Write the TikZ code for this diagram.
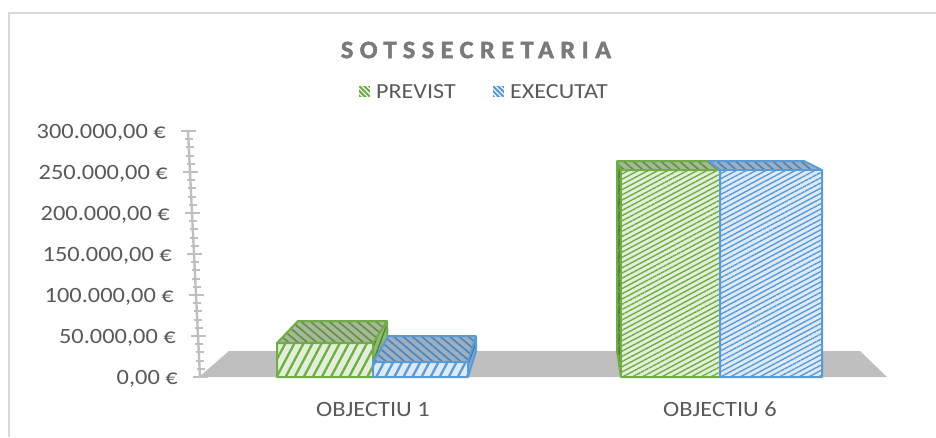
\documentclass[tikz,border=0pt]{standalone}
\usepackage{fontspec}
\setmainfont{Carlito}[FakeStretch=1.12]
\newfontfamily\titlefont{Carlito Bold}[LetterSpace=26,FakeStretch=1.05,FakeBold=2]
\usetikzlibrary{patterns.meta}
\definecolor{bordergray}{HTML}{D9D9D9}
\definecolor{floorgray}{HTML}{BFBFBF}
\definecolor{axisgray}{HTML}{BFBFBF}
\definecolor{txtgray}{HTML}{595959}
\definecolor{titlegray}{HTML}{7A7A7A}
\definecolor{gline}{HTML}{70AD47}
\definecolor{glight}{HTML}{E2F0D9}
\definecolor{gtop}{HTML}{A7B79A}
\definecolor{gside}{HTML}{8FB872}
\definecolor{gdark}{HTML}{4F7D31}
\definecolor{bline}{HTML}{5B9BD5}
\definecolor{blight}{HTML}{DEEBF7}
\definecolor{btop}{HTML}{9BAFC4}
\definecolor{bside}{HTML}{7AA9D8}
\tikzset{
  axlab/.style={font=\fontsize{21.8}{26}\selectfont, text=txtgray, inner sep=0pt},
  catlab/.style={font=\fontsize{21.8}{26}\selectfont, text=txtgray, inner sep=0pt},
  leglab/.style={font=\fontsize{21.5}{26}\selectfont, text=txtgray, inner sep=0pt, anchor=west},
  gfrontA/.style={fill=glight, postaction={pattern={Lines[angle=62,distance=8pt,line width=2.3pt]}, pattern color=gline}},
  bfrontA/.style={fill=blight, postaction={pattern={Lines[angle=62,distance=8pt,line width=2.3pt]}, pattern color=bline}},
  gfrontB/.style={fill=glight, postaction={pattern={Lines[angle=28,distance=4.6pt,line width=1.4pt]}, pattern color=gline}},
  bfrontB/.style={fill=blight, postaction={pattern={Lines[angle=28,distance=4.6pt,line width=1.4pt]}, pattern color=bline}},
  gtopface/.style={fill=gtop, postaction={pattern={Lines[angle=-40,distance=6pt,line width=1.6pt]}, pattern color=gline!85!black}},
  btopface/.style={fill=btop, postaction={pattern={Lines[angle=-40,distance=6pt,line width=1.6pt]}, pattern color=bline!85!black}},
  gsideface/.style={fill=gside, postaction={pattern={Lines[angle=70,distance=5pt,line width=1.2pt]}, pattern color=gline!70!black}},
  bsideface/.style={fill=bside, postaction={pattern={Lines[angle=70,distance=5pt,line width=1.2pt]}, pattern color=bline!70!black}},
  gdarkface/.style={fill=gdark, postaction={pattern={Lines[angle=70,distance=4pt,line width=1pt]}, pattern color=gline}},
  gedge/.style={draw=gline, line width=2pt, line join=round},
  bedge/.style={draw=bline, line width=2pt, line join=round},
  gmark/.style={fill=gline, postaction={pattern={Lines[angle=-45,distance=3.5pt,line width=1.1pt]}, pattern color=white}},
  bmark/.style={fill=bline, postaction={pattern={Lines[angle=-45,distance=3.5pt,line width=1.1pt]}, pattern color=white}}
}
\begin{document}
\begin{tikzpicture}[x=1pt,y=-1pt]
\useasboundingbox (0,0) rectangle (936,437);
% chart border
\draw[bordergray, line width=1.5pt] (9,437) -- (9,13) -- (936,13);
% title
\node[font=\titlefont\fontsize{25}{28}\selectfont, text=titlegray, inner sep=0pt] (title) at (476,50) {SOTSSECRETARIA};
% legend
\path[gmark] (359,86) rectangle (370,97);
\node[leglab] (lprev) at (376,92) {PREVIST};
\path[bmark] (493,86) rectangle (504,97);
\node[leglab] (lexec) at (510,92) {EXECUTAT};
% floor
\fill[floorgray] (199,377) -- (887,377) -- (860,351) -- (229,351) -- cycle;
% value axis
\draw[axisgray, line width=2.4pt] (188,131) -- (200,377);
\foreach \m in {0,...,30}{
  \pgfmathsetmacro\yy{131+8.2*\m}
  \pgfmathsetmacro\xx{188+(\yy-131)*0.0488}
  \draw[axisgray, line width=2pt] (\xx-3,\yy) -- (\xx+5,\yy);
}
\foreach \k/\lab in {0/{300.000,00 €},1/{250.000,00 €},2/{200.000,00 €},3/{150.000,00 €},4/{100.000,00 €},5/{50.000,00 €},6/{0,00 €}}{
  \pgfmathsetmacro\yy{131+41*\k}
  \pgfmathsetmacro\xx{188+(\yy-131)*0.0488}
  \draw[axisgray, line width=2pt] (\xx-7,\yy) -- (\xx+8,\yy);
  \node[axlab, anchor=east] (ylab\k) at (\xx-22,\yy+2) {\lab};
}
% OBJECTIU 1 - PREVIST
\path[gtopface] (277,343) -- (373,343) -- (387,321) -- (298,321) -- cycle;
\path[gsideface] (373,343) -- (387,321) -- (388,351) -- (373,377) -- cycle;
\path[gfrontA] (277,343) rectangle (373,377);
\draw[gedge] (277,377) -- (277,343) -- (298,321) -- (387,321) -- (388,351) -- (373,377) -- cycle;
\draw[gedge] (277,343) -- (373,343) -- (387,321);
\draw[gedge] (373,343) -- (373,377);
% OBJECTIU 1 - EXECUTAT
\path[btopface] (373,362) -- (468,362) -- (476,336) -- (388.5,336) -- cycle;
\path[bsideface] (468,362) -- (476,336) -- (476,351) -- (468,377) -- cycle;
\path[bfrontA] (373,362) rectangle (468,377);
\draw[bedge] (373,377) -- (373,362) -- (388.5,336) -- (476,336) -- (476,351) -- (468,377) -- cycle;
\draw[bedge] (373,362) -- (468,362) -- (476,336);
\draw[bedge] (468,362) -- (468,377);
% OBJECTIU 6 - PREVIST
\path[gdarkface] (617,161) -- (621,170) -- (621,377) -- (617,351) -- cycle;
\path[gtopface] (621,170) -- (720,170) -- (709,161) -- (617,161) -- cycle;
\path[gfrontB] (621,170) rectangle (720,377);
\draw[gedge] (621,377) -- (617,351) -- (617,161) -- (709,161) -- (720,170) -- (720,377) -- cycle;
\draw[gedge] (617,161) -- (621,170) -- (720,170);
\draw[gedge] (621,170) -- (621,377);
% OBJECTIU 6 - EXECUTAT
\path[btopface] (720,170) -- (822,170) -- (804,161) -- (709,161) -- cycle;
\path[bfrontB] (720,170) rectangle (822,377);
\draw[bedge] (720,377) -- (720,170) -- (709,161) -- (804,161) -- (822,170) -- (822,377) -- cycle;
\draw[bedge] (720,170) -- (822,170);
% category labels
\node[catlab] (cat1) at (373,409) {OBJECTIU 1};
\node[catlab] (cat6) at (720,409) {OBJECTIU 6};
\end{tikzpicture}
\end{document}
